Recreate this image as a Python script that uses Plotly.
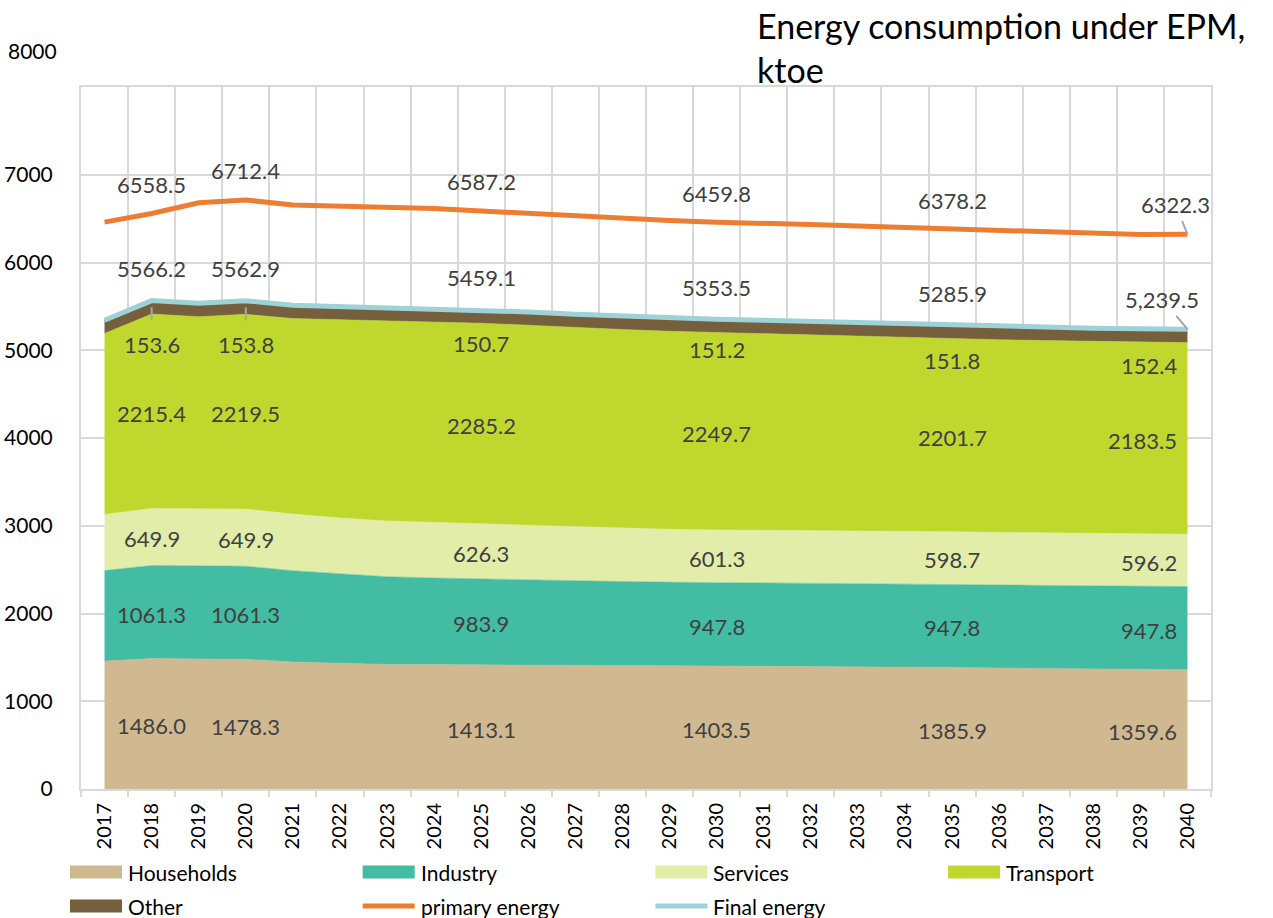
import plotly.graph_objects as go

# ---------------- data ----------------
years = list(range(2017, 2041))

households = [1459, 1486.0, 1482, 1478.3, 1447, 1430, 1420, 1418, 1413.1, 1411, 1409, 1407,
              1405, 1403.5, 1401, 1398, 1395, 1390, 1385.9, 1378, 1372, 1366, 1362, 1359.6]
industry = [1030, 1061.3, 1061.3, 1061.3, 1041, 1020, 1000, 987, 983.9, 975, 965, 957,
            950, 947.8, 947.8, 947.8, 947.8, 947.8, 947.8, 947.8, 947.8, 947.8, 947.8, 947.8]
services = [640, 649.9, 649.9, 649.9, 645, 638, 634, 630, 626.3, 620, 614, 608,
            604, 601.3, 601, 600, 600, 599, 598.7, 598, 597.5, 597, 596.5, 596.2]
transport = [2063, 2215.4, 2189, 2219.5, 2228, 2260, 2280, 2290, 2285.2, 2280, 2272, 2265,
             2258, 2249.7, 2240, 2230, 2220, 2210, 2201.7, 2197, 2193, 2189, 2186, 2183.5]
other = [150, 153.6, 153.7, 153.8, 153, 152, 151.5, 151, 150.7, 150.8, 150.9, 151,
         151.1, 151.2, 151.3, 151.4, 151.5, 151.7, 151.8, 151.9, 152, 152.1, 152.3, 152.4]
final_energy = [5342, 5566.2, 5535.9, 5562.9, 5514, 5500, 5485.5, 5476, 5459.1, 5436.8, 5410.9, 5388,
                5368.1, 5353.5, 5341.1, 5327.2, 5314.3, 5298.5, 5285.9, 5272.7, 5262.3, 5251.9, 5244.6, 5239.5]
primary_energy = [6460, 6558.5, 6680, 6712.4, 6655, 6645, 6630, 6615, 6587.2, 6560, 6530, 6495,
                  6478, 6459.8, 6450, 6432, 6415, 6398, 6378.2, 6358, 6340, 6322, 6318, 6322.3]

label_years = [2018, 2020, 2025, 2030, 2035, 2040]
y_ticks = [0, 1000, 2000, 3000, 4000, 5000, 6000, 7000, 8000]

# ---------------- style ----------------
FONT = "Lato"
C_HH = "#D0B991"
C_IND = "#43BCA4"
C_SERV = "#E2EDA9"
C_TRANS = "#C0D82D"
C_OTHER = "#765F3C"
C_PRIM = "#ED7D31"
C_FINAL = "#9DD3D8"
GRID = "#D9D9D9"
LBL = "#404040"
LEADER = "#A6A6A6"

fig = go.Figure()

areas = [("Households", households, C_HH), ("Industry", industry, C_IND),
         ("Services", services, C_SERV), ("Transport", transport, C_TRANS),
         ("Other", other, C_OTHER)]
for name, vals, col in areas:
    fig.add_trace(go.Scatter(x=years, y=vals, name=name, stackgroup="one", mode="lines",
                             line=dict(width=0.5, color=col), fillcolor=col,
                             showlegend=False, hoverinfo="x+y+name"))

fig.add_trace(go.Scatter(x=years, y=final_energy, name="Final energy", mode="lines",
                         line=dict(color=C_FINAL, width=5), showlegend=False))
fig.add_trace(go.Scatter(x=years, y=primary_energy, name="primary energy", mode="lines",
                         line=dict(color=C_PRIM, width=5), showlegend=False))

# ---------------- data labels ----------------
ann = []
lf = dict(family=FONT, size=22, color=LBL)
idx = [years.index(y) for y in label_years]

other_shift = [0, 0, -27, -24, -29, -30]
for k, i in enumerate(idx):
    yr = years[i]
    last = (yr == years[-1])
    pos = dict(xanchor="right", xshift=-8) if last else dict(xanchor="center")
    b = 0
    for vals in [households, industry, services, transport]:
        ann.append(dict(x=yr, y=b + vals[i] / 2, text=f"{vals[i]:.1f}", showarrow=False,
                        yshift=-2, font=lf, **pos))
        b += vals[i]
    # other
    ymid = b + other[i] / 2
    if k < 2:
        ann.append(dict(x=yr, y=ymid, text=f"{other[i]:.1f}", showarrow=True, ax=0, ay=37,
                        arrowhead=0, arrowwidth=2, arrowcolor=LEADER, startstandoff=9,
                        font=lf))
    else:
        ann.append(dict(x=yr, y=ymid, text=f"{other[i]:.1f}", showarrow=False,
                        yshift=other_shift[k], font=lf, **pos))
    # final / primary energy
    if last:
        ann.append(dict(x=yr, y=final_energy[i], text=f"{final_energy[i]:,.1f}", showarrow=True,
                        ax=-25, ay=-30, arrowhead=0, arrowwidth=2, arrowcolor=LEADER,
                        startstandoff=2, font=lf))
        ann.append(dict(x=yr, y=primary_energy[i], text=f"{primary_energy[i]:.1f}", showarrow=True,
                        ax=-12, ay=-30, arrowhead=0, arrowwidth=2, arrowcolor=LEADER,
                        startstandoff=2, font=lf))
    else:
        ann.append(dict(x=yr, y=final_energy[i], text=f"{final_energy[i]:.1f}", showarrow=False,
                        yshift=32, font=lf))
        ann.append(dict(x=yr, y=primary_energy[i], text=f"{primary_energy[i]:.1f}", showarrow=False,
                        yshift=29, font=lf))

# ---------------- geometry helpers (pixels -> paper) ----------------
L, R, T, B = 81, 62, 87, 129
W, H = 1273, 918
PW, PH = W - L - R, H - T - B


def px(x):
    return (x - L) / PW


def py(y):
    return (H - B - y) / PH


# title
ann.append(dict(xref="paper", yref="paper", x=px(755), y=py(3), xanchor="left", yanchor="top",
                align="left", showarrow=False, text="Energy consumption under EPM,<br>ktoe",
                font=dict(family=FONT, size=34, color="#000000")))
# shifted 8000 label
ann.append(dict(xref="paper", yref="paper", x=px(59), y=py(50), xanchor="right", yanchor="middle",
                showarrow=False, text="8000", font=dict(family=FONT, size=21, color="#000000")))

# ---------------- custom legend ----------------
legend_items = [("Households", C_HH, "box"), ("Industry", C_IND, "box"),
                ("Services", C_SERV, "box"), ("Transport", C_TRANS, "box"),
                ("Other", C_OTHER, "box"), ("primary energy", C_PRIM, "line"),
                ("Final energy", C_FINAL, "line")]
shapes = []
for n, (name, col, kind) in enumerate(legend_items):
    r, c = divmod(n, 4)
    x0 = 70 + c * 292.7
    yc = 872 + r * 34
    if kind == "box":
        shapes.append(dict(type="rect", xref="paper", yref="paper", x0=px(x0), x1=px(x0 + 52),
                           y0=py(yc + 6.5), y1=py(yc - 6.5), fillcolor=col, line=dict(width=0)))
    else:
        shapes.append(dict(type="line", xref="paper", yref="paper", x0=px(x0), x1=px(x0 + 52),
                           y0=py(yc), y1=py(yc), line=dict(color=col, width=5)))
    ann.append(dict(xref="paper", yref="paper", x=px(x0 + 56), y=py(yc), xanchor="left",
                    yanchor="middle", showarrow=False, text=name,
                    font=dict(family=FONT, size=21, color="#000000")))

fig.update_layout(
    width=W, height=H, autosize=False,
    margin=dict(l=L, r=R, t=T, b=B, pad=0),
    paper_bgcolor="white", plot_bgcolor="white",
    showlegend=False,
    annotations=ann, shapes=shapes,
    font=dict(family=FONT, color="#000000"),
    xaxis=dict(range=[2016.5, 2040.5], tickmode="array", tickvals=years,
               ticktext=[str(y) for y in years], tickangle=-90, showgrid=False,
               ticks="", ticklabelstandoff=4, automargin=False,
               tickfont=dict(family=FONT, size=20, color="#000000"),
               showline=True, linecolor=GRID, linewidth=2, mirror=True, zeroline=False,
               minor=dict(tickvals=[y - 0.5 for y in years] + [2040.5], showgrid=True,
                          gridcolor=GRID, gridwidth=2, ticks="outside", ticklen=6,
                          tickcolor=GRID, tickwidth=2)),
    yaxis=dict(range=[0, 8000], tickmode="array", tickvals=y_ticks,
               ticktext=[str(v) if v < 8000 else "" for v in y_ticks],
               showgrid=True, gridcolor=GRID, gridwidth=2, zeroline=False,
               showline=True, linecolor=GRID, linewidth=2, mirror=True,
               ticks="", ticklabelstandoff=22, automargin=False,
               tickfont=dict(family=FONT, size=21, color="#000000")),
)

fig.write_html("out.html", config={"displayModeBar": False},
               post_script="document.body.style.margin='0px';document.body.style.overflow='hidden';")
